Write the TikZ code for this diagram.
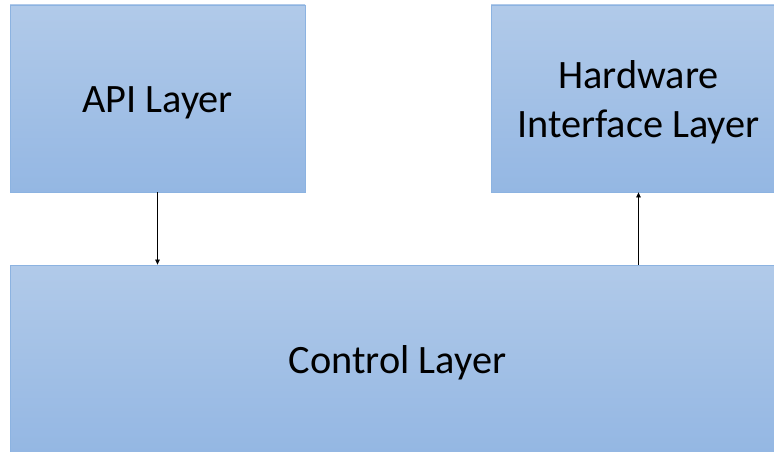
\documentclass[tikz,border=0pt]{standalone}
\usepackage{fontspec}
\setmainfont{Carlito}
\usetikzlibrary{arrows.meta}
\definecolor{boxtop}{RGB}{177,202,233}
\definecolor{boxbottom}{RGB}{148,183,227}
\definecolor{boxedge}{RGB}{140,179,225}
\tikzset{
  layer/.style={rectangle, draw=boxedge, line width=0.8pt, inner sep=0pt,
    top color=boxtop, bottom color=boxbottom, shading angle=0},
  caption/.style={align=center, yshift=-4pt, inner sep=0pt,
    font=\fontsize{40.3}{48.8}\selectfont},
  link/.style={draw=black, line width=0.7pt, -{Triangle[length=5pt,width=4.5pt]}}
}
\begin{document}
\begin{tikzpicture}[x=1pt,y=1pt]
  \useasboundingbox (0,0) rectangle (774,451);
  \clip (0,0) rectangle (774,451);
  % three layer boxes, the right-hand ones running past the page edge
  \node[layer, minimum width=295pt, minimum height=187pt,
        label={[caption]center:API Layer}] (api) at (157.5,352.5) {};
  \node[layer, minimum width=295pt, minimum height=187pt,
        label={[caption]center:Hardware\\Interface Layer}] (hw) at (638.5,352.5) {};
  \node[layer, minimum width=775pt, minimum height=187pt,
        label={[caption]center:Control Layer}] (ctrl) at (397.5,92.5) {};
  % calls go down from the API, and up to the hardware
  \draw[link] (api.south) -- (api.south |- ctrl.north);
  \draw[link] (hw.south |- ctrl.north) -- (hw.south);
\end{tikzpicture}
\end{document}
